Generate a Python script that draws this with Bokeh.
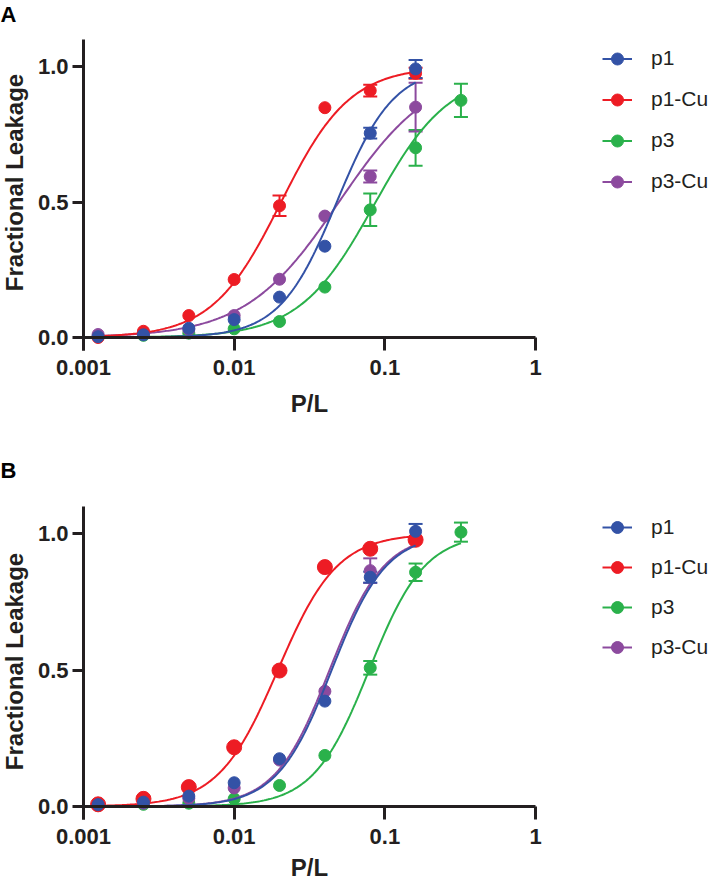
import numpy as np
from bokeh.plotting import figure
from bokeh.models import (Range1d, FixedTicker, NumeralTickFormatter, Legend, LegendItem,
                          Label, Whisker, TeeHead, ColumnDataSource)
from bokeh.layouts import column
from bokeh.embed import file_html
from bokeh.resources import INLINE

# ---------------- data ----------------
x_vals = [0.00125, 0.0025, 0.005, 0.01, 0.02, 0.04, 0.08, 0.16, 0.32]
series_names = ["p1", "p1-Cu", "p3", "p3-Cu"]

# Panel A
p1_A = [0.003, 0.010, 0.034, 0.066, 0.149, 0.337, 0.754, 0.991]
p1_A_err = [0, 0, 0, 0, 0, 0, 0.020, 0.033]
p1cu_A = [0.000, 0.023, 0.081, 0.214, 0.486, 0.848, 0.911, 0.975]
p1cu_A_err = [0, 0, 0, 0, 0.038, 0, 0.022, 0.020]
p3_A = [0.003, 0.008, 0.016, 0.032, 0.059, 0.186, 0.471, 0.700, 0.875]
p3_A_err = [0, 0, 0, 0, 0, 0, 0.060, 0.066, 0.061]
p3cu_A = [0.011, 0.015, 0.030, 0.081, 0.215, 0.448, 0.594, 0.850]
p3cu_A_err = [0, 0, 0, 0, 0, 0, 0.022, 0.090]
# fitted curve parameters (top, EC50, Hill slope)
fit_A = {"p1": (1.0, 0.048, 2.3), "p1-Cu": (1.0, 0.0205, 1.9),
         "p3": (0.98, 0.085, 1.75), "p3-Cu": (1.0, 0.0496, 1.4)}

# Panel B
p1_B = [0.007, 0.016, 0.038, 0.087, 0.175, 0.386, 0.840, 1.008]
p1_B_err = [0, 0, 0, 0, 0, 0, 0.020, 0.027]
p1cu_B = [0.008, 0.028, 0.071, 0.217, 0.498, 0.877, 0.944, 0.977]
p1cu_B_err = [0, 0, 0, 0, 0, 0, 0, 0]
p3_B = [0.004, 0.008, 0.012, 0.028, 0.077, 0.187, 0.508, 0.858, 1.005]
p3_B_err = [0, 0, 0, 0, 0, 0, 0.025, 0.032, 0.035]
p3cu_B = [0.005, 0.012, 0.030, 0.068, 0.170, 0.422, 0.864, 0.985]
p3cu_B_err = [0, 0, 0, 0, 0, 0, 0.045, 0]
fit_B = {"p1": (1.0, 0.0444, 2.4), "p1-Cu": (1.0, 0.0195, 2.2),
         "p3": (1.0, 0.0787, 2.35), "p3-Cu": (1.0, 0.043, 2.4)}

x_ticks = [0.001, 0.01, 0.1, 1]
x_tick_labels = ["0.001", "0.01", "0.1", "1"]
y_ticks = [0, 0.5, 1.0]
x_axis_span = (0.001, 1.0)
y_axis_span = (-0.048, 1.1)

colors = {"p1": "#3352a6", "p1-Cu": "#ed1c24", "p3": "#2ab14b", "p3-Cu": "#8c4a9e"}
INK = "#231f20"
FONT = "Liberation Sans"

W = 718
AX_LEFT, AX_RIGHT = 83, 535          # screen x of x=0.001 and x=1


def hill(x, top, ec50, n):
    x = np.asarray(x)
    return top * x**n / (x**n + ec50**n)


def make_panel(letter, data, fits, height, y0_px, px_per_unit, marker_sizes,
               legend_top, item_h, letter_base, ytitle_center, plabel_base):
    dec = (AX_RIGHT - AX_LEFT) / 3.0
    xs0 = 10 ** (-3 - AX_LEFT / dec)
    xs1 = 10 ** (-3 + (W - AX_LEFT) / dec)
    ytop = y0_px / px_per_unit
    ybot = -(height - y0_px) / px_per_unit
    p = figure(width=W, height=height, x_axis_type="log",
               x_range=Range1d(xs0, xs1), y_range=Range1d(ybot, ytop),
               output_backend="svg", toolbar_location=None, min_border=0,
               min_border_left=0, min_border_right=0, min_border_top=0, min_border_bottom=0)
    p.outline_line_color = None
    p.grid.visible = False
    p.background_fill_color = "white"
    p.border_fill_color = "white"

    # axes
    xa = p.xaxis[0]
    xa.fixed_location = 0
    xa.bounds = x_axis_span
    xa.ticker = FixedTicker(ticks=x_ticks)
    xa.major_label_overrides = {t: l for t, l in zip(x_ticks, x_tick_labels)}
    xa.major_tick_out = 13
    xa.major_label_standoff = 9
    ya = p.yaxis[0]
    ya.fixed_location = 0.001
    ya.bounds = y_axis_span
    ya.ticker = FixedTicker(ticks=y_ticks)
    ya.formatter = NumeralTickFormatter(format="0.0")
    ya.major_tick_out = 11
    ya.major_label_standoff = 4
    for ax in (xa, ya):
        ax.axis_line_width = 3
        ax.axis_line_color = INK
        ax.major_tick_line_width = 3
        ax.major_tick_line_color = INK
        ax.major_tick_in = 0
        ax.minor_tick_in = 0
        ax.minor_tick_out = 0
        ax.major_label_text_font = FONT
        ax.major_label_text_font_style = "bold"
        ax.major_label_text_font_size = "22px"
        ax.major_label_text_color = INK

    items = {}
    draw_order = ["p3", "p3-Cu", "p1-Cu", "p1"]
    for name in draw_order:
        ys, errs = data[name]
        xs = x_vals[:len(ys)]
        c = colors[name]
        top, ec, n = fits[name]
        xc = np.logspace(np.log10(xs[0]), np.log10(xs[-1]), 200)
        lr = p.line(xc, hill(xc, top, ec, n), line_color=c, line_width=2)
        sr = p.scatter(xs, ys, size=marker_sizes[name], marker="circle",
                       fill_color=c, line_color=c)
        bx = [xv for xv, e in zip(xs, errs) if e > 0]
        by = [yv for yv, e in zip(ys, errs) if e > 0]
        be = [e for e in errs if e > 0]
        if bx:
            src = ColumnDataSource(dict(x=bx, upper=[a + b for a, b in zip(by, be)],
                                        lower=[a - b for a, b in zip(by, be)]))
            w = Whisker(base="x", upper="upper", lower="lower", source=src,
                        dimension="height", line_color=c, line_width=2,
                        upper_head=TeeHead(size=14, line_color=c, line_width=2),
                        lower_head=TeeHead(size=14, line_color=c, line_width=2))
            p.add_layout(w)
        items[name] = LegendItem(label=name, renderers=[lr, sr])

    legend_h = item_h * len(series_names)
    legend = Legend(items=[items[nm] for nm in series_names],
                    location=(602, height - legend_top - legend_h),
                    padding=0, margin=0, spacing=0,
                    glyph_width=30, glyph_height=item_h, label_height=item_h,
                    label_standoff=19,
                    label_text_font=FONT, label_text_font_size="21px",
                    label_text_color=INK,
                    border_line_color=None, background_fill_alpha=0)
    p.add_layout(legend)

    # panel letter
    p.add_layout(Label(x=0, y=height - letter_base, x_units="screen", y_units="screen",
                       text=letter, text_font=FONT, text_font_style="bold",
                       text_font_size="22px", text_color="black",
                       text_baseline="alphabetic", text_align="left"))
    # y axis title
    p.add_layout(Label(x=14, y=height - ytitle_center, x_units="screen", y_units="screen",
                       text="Fractional Leakage", angle=np.pi / 2,
                       text_font=FONT, text_font_style="bold", text_font_size="24px",
                       text_color=INK, text_align="center", text_baseline="middle"))
    # x axis title
    p.add_layout(Label(x=(AX_LEFT + AX_RIGHT) / 2, y=height - plabel_base,
                       x_units="screen", y_units="screen",
                       text="P/L", text_font=FONT, text_font_style="bold",
                       text_font_size="24px", text_color=INK,
                       text_align="center", text_baseline="alphabetic"))
    return p


data_A = {"p1": (p1_A, p1_A_err), "p1-Cu": (p1cu_A, p1cu_A_err),
          "p3": (p3_A, p3_A_err), "p3-Cu": (p3cu_A, p3cu_A_err)}
data_B = {"p1": (p1_B, p1_B_err), "p1-Cu": (p1cu_B, p1cu_B_err),
          "p3": (p3_B, p3_B_err), "p3-Cu": (p3cu_B, p3cu_B_err)}

sizes_A = {"p1": 12, "p1-Cu": 12, "p3": 12, "p3-Cu": 12}
sizes_B = {"p1": 12, "p1-Cu": 15, "p3": 12, "p3-Cu": 12}

pA = make_panel("A", data_A, fit_A, 448, 337, 271.0, sizes_A,
                legend_top=37.5, item_h=41, letter_base=14, ytitle_center=182, plabel_base=403)
pB = make_panel("B", data_B, fit_B, 432, 358, 273.0, sizes_B,
                legend_top=59, item_h=40, letter_base=22, ytitle_center=213, plabel_base=419)

layout = column(pA, pB, spacing=0)
open("out.html", "w").write(file_html(layout, INLINE))
